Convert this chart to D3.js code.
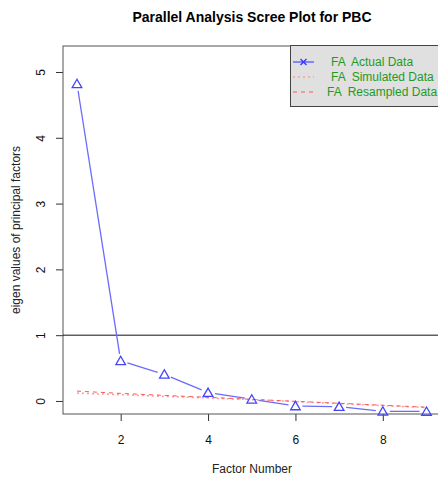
<!DOCTYPE html>
<html>
<head>
<meta charset="utf-8">
<script src="https://cdn.jsdelivr.net/npm/d3@7"></script>
<style>
  body { margin: 0; background: #fff; }
  text { font-family: "Liberation Sans", Arial, sans-serif; }
</style>
</head>
<body>
<svg id="chart"></svg>
<script>
let w = 438;
let h = 479;

// data
let factors = [1, 2, 3, 4, 5, 6, 7, 8, 9];
let actualFA = [4.82, 0.61, 0.405, 0.126, 0.026, -0.076, -0.086, -0.157, -0.16];
let simulatedFA = [0.12, 0.095, 0.07, 0.045, 0.02, -0.01, -0.04, -0.07, -0.10];
let resampledFA = [0.15, 0.115, 0.085, 0.055, 0.025, -0.005, -0.035, -0.065, -0.095];
let xTicks = [2, 4, 6, 8];
let yTicks = [0, 1, 2, 3, 4, 5];
let legendLabels = ["FA  Actual Data", "FA  Simulated Data", "FA  Resampled Data"];

let svg = d3.select("#chart").attr("width", w).attr("height", h);

let xScale = d3.scaleLinear().domain([0.68, 9.32]).range([63, 440.5]);
let yScale = d3.scaleLinear().domain([-0.198, 5.395]).range([414, 46]);

// title
svg.append("text")
  .attr("x", 252).attr("y", 22)
  .attr("text-anchor", "middle")
  .attr("font-size", 14).attr("font-weight", "bold")
  .text("Parallel Analysis Scree Plot for PBC");

// axes
let xAxis = d3.axisBottom(xScale).tickValues(xTicks).tickFormat(d3.format("d"))
  .tickSize(7).tickPadding(14);
let yAxis = d3.axisLeft(yScale).tickValues(yTicks).tickFormat(d3.format("d")).tickSize(7);

let xg = svg.append("g").attr("transform", "translate(0,414)").call(xAxis);
xg.select(".domain").remove();
xg.selectAll("line").attr("stroke", "#333");
xg.selectAll("text").attr("font-size", 12).attr("fill", "#111");

let yg = svg.append("g").attr("transform", "translate(63,0)").call(yAxis);
yg.select(".domain").remove();
yg.selectAll("line").attr("stroke", "#333");
yg.selectAll("text")
  .attr("font-size", 12).attr("fill", "#111")
  .attr("x", 0).attr("y", 0).attr("dy", 0)
  .attr("text-anchor", "middle")
  .attr("transform", "translate(-18,0) rotate(-90)");

// plot box
svg.append("rect")
  .attr("x", 63).attr("y", 46)
  .attr("width", 440.5 - 63).attr("height", 414 - 46)
  .attr("fill", "none").attr("stroke", "#555").attr("stroke-width", 1);

// axis titles
svg.append("text")
  .attr("x", 252).attr("y", 473)
  .attr("text-anchor", "middle").attr("font-size", 12).attr("fill", "#222")
  .text("Factor Number");
svg.append("text")
  .attr("transform", "translate(20,230) rotate(-90)")
  .attr("text-anchor", "middle").attr("font-size", 12).attr("fill", "#222")
  .text("eigen values of principal factors");

// reference line at 1
svg.append("line")
  .attr("x1", 63).attr("x2", w)
  .attr("y1", yScale(1)).attr("y2", yScale(1))
  .attr("stroke", "#111").attr("stroke-width", 1);

let line = d3.line().x((d, i) => xScale(factors[i])).y((d) => yScale(d));

// simulated (dotted) and resampled (dashed)
svg.append("path").datum(simulatedFA)
  .attr("d", line).attr("fill", "none")
  .attr("stroke", "#ff9a9a").attr("stroke-width", 1.5)
  .attr("stroke-dasharray", "2,3");
svg.append("path").datum(resampledFA)
  .attr("d", line).attr("fill", "none")
  .attr("stroke", "#ff5555").attr("stroke-width", 1)
  .attr("stroke-dasharray", "4,4");

// actual data: type "b" lines with gaps round the points
let pts = actualFA.map((d, i) => [xScale(factors[i]), yScale(d)]);
let gap = 7;
let segs = d3.pairs(pts).map(([a, b]) => {
  let dx = b[0] - a[0], dy = b[1] - a[1];
  let len = Math.hypot(dx, dy);
  let ux = dx / len, uy = dy / len;
  return [a[0] + ux * gap, a[1] + uy * gap, b[0] - ux * gap, b[1] - uy * gap];
});
svg.selectAll("line.seg").data(segs).enter().append("line")
  .attr("class", "seg")
  .attr("x1", (d) => d[0]).attr("y1", (d) => d[1])
  .attr("x2", (d) => d[2]).attr("y2", (d) => d[3])
  .attr("stroke", "#6a6aff").attr("stroke-width", 1.3);

let tri = d3.symbol().type(d3.symbolTriangle).size(40);
svg.selectAll("path.pt").data(pts).enter().append("path")
  .attr("class", "pt")
  .attr("d", tri)
  .attr("transform", (d) => "translate(" + d[0] + "," + (d[1] + 1) + ")")
  .attr("fill", "none").attr("stroke", "#4444ff").attr("stroke-width", 1.3);

// legend
let lg = svg.append("g");
lg.append("rect")
  .attr("x", 290.5).attr("y", 45.5).attr("width", 160).attr("height", 61)
  .attr("fill", "#e0e0e0").attr("stroke", "#444");
let rowY = [62, 77, 92];
let textX = [331, 331, 327];
lg.selectAll("text").data(legendLabels).enter().append("text")
  .attr("x", (d, i) => textX[i]).attr("y", (d, i) => rowY[i] + 4)
  .attr("font-size", 12).attr("fill", "#1f9a1f")
  .style("white-space", "pre")
  .text((d) => d);
lg.append("line").attr("x1", 293).attr("x2", 314).attr("y1", rowY[0]).attr("y2", rowY[0])
  .attr("stroke", "#5555ff").attr("stroke-width", 1.3);
lg.append("path").attr("d", d3.symbol().type(d3.symbolX).size(25))
  .attr("transform", "translate(303.5," + rowY[0] + ")")
  .attr("fill", "none").attr("stroke", "#3333ff").attr("stroke-width", 1.3);
lg.append("line").attr("x1", 293).attr("x2", 314).attr("y1", rowY[1]).attr("y2", rowY[1])
  .attr("stroke", "#ff9a9a").attr("stroke-width", 1.5).attr("stroke-dasharray", "2,3");
lg.append("line").attr("x1", 293).attr("x2", 314).attr("y1", rowY[2]).attr("y2", rowY[2])
  .attr("stroke", "#ff5555").attr("stroke-width", 1).attr("stroke-dasharray", "4,4");
</script>
</body>
</html>
